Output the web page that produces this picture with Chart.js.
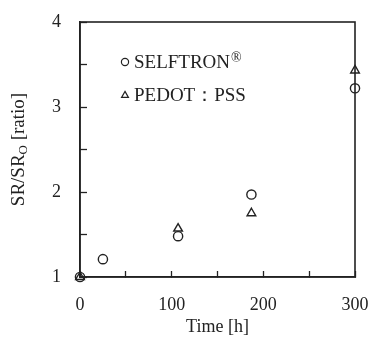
<!DOCTYPE html>
<html>
<head>
<meta charset="utf-8">
<script src="https://cdn.jsdelivr.net/npm/chart.js@4.4.0/dist/chart.umd.min.js"></script>
<style>
  html, body { margin: 0; padding: 0; background: #fff; }
  #wrap { width: 370px; height: 347px; }
</style>
</head>
<body>
<div id="wrap"><canvas id="srChart"></canvas></div>
<script>
// Surface resistance ratio vs. time
const seriesNames = ['SELFTRON®', 'PEDOT：PSS'];
const selftronTime = [0, 25, 107, 187, 300];
const selftronRatio = [1.0, 1.21, 1.48, 1.97, 3.22];
const pedotTime = [0, 107, 187, 300];
const pedotRatio = [1.0, 1.57, 1.75, 3.43];
const xTickLabels = [0, 100, 200, 300];
const yTickLabels = [1, 2, 3, 4];

const INK = '#222';
const SERIF = '"Liberation Serif", "Times New Roman", serif';

function toPoints(xs, ys) {
    return xs.map((x, i) => ({ x: x, y: ys[i] }));
}

// closed frame around the plot
const frameBox = {
    id: 'frameBox',
    beforeDatasetsDraw(chart) {
        const { ctx, chartArea: a } = chart;
        ctx.save();
        ctx.strokeStyle = INK;
        ctx.lineWidth = 1.6;
        ctx.strokeRect(a.left, a.top, a.right - a.left, a.bottom - a.top);
        ctx.restore();
    }
};

function drawMarker(ctx, style, x, y, r) {
    ctx.beginPath();
    if (style === 'triangle') {
        ctx.moveTo(x, y - r);
        ctx.lineTo(x + r * 0.95, y + r * 0.65);
        ctx.lineTo(x - r * 0.95, y + r * 0.65);
        ctx.closePath();
    } else {
        ctx.arc(x, y, r, 0, Math.PI * 2);
    }
    ctx.stroke();
}

// legend drawn inside the plot, upper left
const insideLegend = {
    id: 'insideLegend',
    afterDraw(chart, args, opts) {
        const { ctx, chartArea: a } = chart;
        ctx.save();
        ctx.strokeStyle = INK;
        ctx.fillStyle = INK;
        ctx.lineWidth = 1.2;
        ctx.textBaseline = 'middle';
        chart.data.datasets.forEach((ds, i) => {
            const mx = a.left + opts.offsetX;
            const my = a.top + opts.offsetY + i * opts.rowGap;
            drawMarker(ctx, ds.pointStyle, mx, my, 3.6);
            let label = ds.label;
            let sup = '';
            if (label.endsWith('®')) { sup = '®'; label = label.slice(0, -1); }
            ctx.font = '19px ' + SERIF;
            ctx.fillText(label, mx + 9, my + 1);
            if (sup) {
                const w = ctx.measureText(label).width;
                ctx.font = '14px ' + SERIF;
                ctx.fillText(sup, mx + 9 + w + 1, my - 4);
            }
        });
        ctx.restore();
    }
};

// rotated y axis title with subscript
const yTitle = {
    id: 'yTitle',
    afterDraw(chart) {
        const { ctx, chartArea: a } = chart;
        const parts = [['SR/SR', 19, 0], ['O', 13, 5], [' [ratio]', 19, 0]];
        ctx.save();
        ctx.fillStyle = INK;
        ctx.textBaseline = 'middle';
        let total = 0;
        parts.forEach(p => { ctx.font = p[1] + 'px ' + SERIF; total += ctx.measureText(p[0]).width; });
        ctx.translate(19, (a.top + a.bottom) / 2);
        ctx.rotate(-Math.PI / 2);
        let x = -total / 2;
        parts.forEach(p => {
            ctx.font = p[1] + 'px ' + SERIF;
            ctx.fillText(p[0], x, p[2]);
            x += ctx.measureText(p[0]).width;
        });
        ctx.restore();
    }
};

const ctx = document.getElementById('srChart').getContext('2d');
new Chart(ctx, {
    type: 'scatter',
    data: {
        datasets: [
            {
                label: seriesNames[0],
                data: toPoints(selftronTime, selftronRatio),
                pointStyle: 'circle',
                pointRadius: 4.6,
                borderColor: INK,
                backgroundColor: 'rgba(0,0,0,0)',
                borderWidth: 1.4,
                clip: false
            },
            {
                label: seriesNames[1],
                data: toPoints(pedotTime, pedotRatio),
                pointStyle: 'triangle',
                pointRadius: 5,
                borderColor: INK,
                backgroundColor: 'rgba(0,0,0,0)',
                borderWidth: 1.4,
                clip: false
            }
        ]
    },
    options: {
        responsive: true,
        maintainAspectRatio: false,
        animation: false,
        layout: { padding: { top: 22, right: 15, left: 0, bottom: 0 } },
        plugins: {
            legend: { display: false },
            tooltip: { enabled: false },
            insideLegend: { offsetX: 45, offsetY: 40, rowGap: 33 }
        },
        scales: {
            x: {
                type: 'linear',
                min: 0,
                max: 300,
                afterFit(scale) {
                    scale.height = 70;
                    scale.paddingLeft = 0;
                    scale.paddingRight = 0;
                },
                border: { display: true, color: INK, width: 1.6 },
                grid: { drawOnChartArea: false, drawTicks: true, tickLength: -6, tickColor: INK, tickWidth: 1.3 },
                ticks: {
                    stepSize: 50,
                    autoSkip: false,
                    maxRotation: 0,
                    padding: 23,
                    color: INK,
                    font: { family: SERIF, size: 18 },
                    callback: v => xTickLabels.includes(v) ? String(v) : ''
                },
                title: {
                    display: true,
                    text: 'Time [h]',
                    color: INK,
                    font: { family: SERIF, size: 18 },
                    padding: { top: 0, bottom: 9 }
                }
            },
            y: {
                type: 'linear',
                min: 1,
                max: 4,
                afterFit(scale) {
                    scale.width = 80;
                    scale.paddingTop = 0;
                    scale.paddingBottom = 0;
                },
                border: { display: true, color: INK, width: 1.6 },
                grid: { drawOnChartArea: false, drawTicks: true, tickLength: -7, tickColor: INK, tickWidth: 1.3 },
                ticks: {
                    stepSize: 0.5,
                    autoSkip: false,
                    padding: 26,
                    color: INK,
                    font: { family: SERIF, size: 18 },
                    callback: v => yTickLabels.includes(v) ? String(v) : ''
                }
            }
        }
    },
    plugins: [frameBox, insideLegend, yTitle]
});
</script>
</body>
</html>
